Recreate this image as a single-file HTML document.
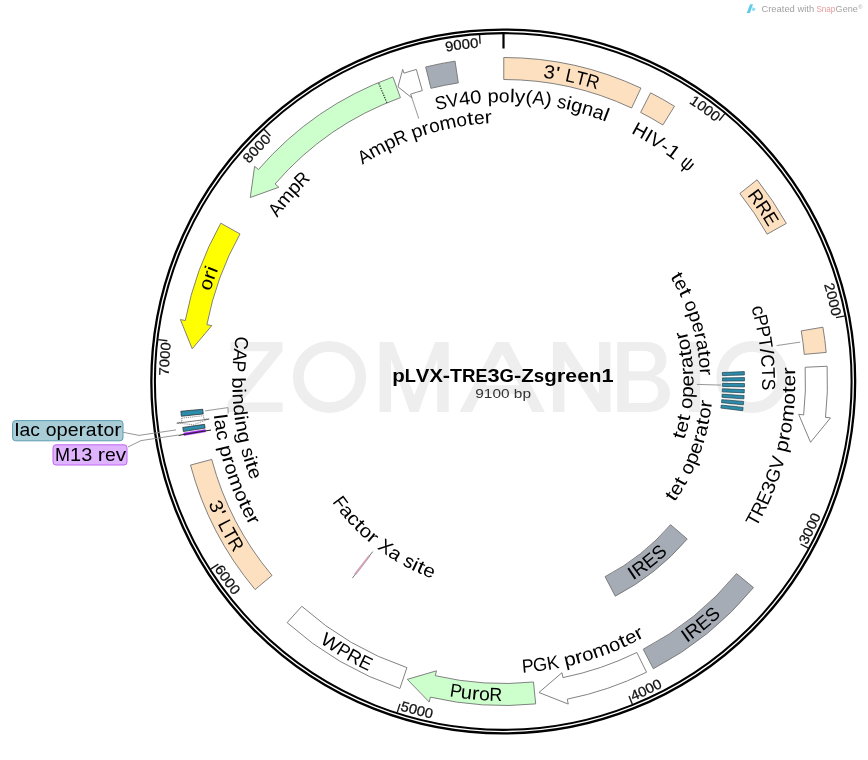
<!DOCTYPE html>
<html><head><meta charset="utf-8"><title>pLVX-TRE3G-Zsgreen1</title>
<style>html,body{margin:0;padding:0;background:#fff}svg{display:block;will-change:transform;opacity:0.999}</style></head>
<body>
<svg width="868" height="760" viewBox="0 0 868 760" font-family='"Liberation Sans", sans-serif'>
<rect width="868" height="760" fill="#fff"/>
<path fill="#eeeeee" d="M230.4 342.1H282.5V351.3L241.3 402.6H282.5V411.9H227.5V402.6L269.3 351.3H230.4Z"/>
<g fill="#eeeeee" fill-rule="evenodd" stroke="none" transform="translate(0 342) scale(1 0.9655) translate(0 -340.6)">
<path d="M379.6 413.1V340.6H393.2L414.2 396L435.2 340.6H448.7V413.1H437.2V358.5L418.6 413.1H409.8L391.1 358.5V413.1Z"/>
<path d="M459.6 413.1L496.2 340.6H508.8L544.8 413.1H532.3L523.6 394.6H481L472 413.1ZM502.4 353.2L485.6 385.4H519.2Z"/>
<path d="M552.9 413.1V340.6H565.6L599 394.2V340.6H610.5V413.1H597.9L564.4 359.6V413.1Z"/>
<path d="M617.3 340.6H646C660 340.6 666.5 349 666.5 359C666.5 368 661.5 373.6 655 375.6C663.5 377.6 670 384 670 393.6C670 405 661 413.1 646.5 413.1H617.3ZM628.8 350V371H645C652 371 655.2 366 655.2 360.5C655.2 354 651 350 645 350ZM628.8 380.4V403.7H646C654 403.7 658.3 398.5 658.3 392C658.3 385 653.5 380.4 646 380.4Z"/>
<rect x="688.7" y="340.6" width="11.5" height="72.5"/>
</g>
<ellipse cx="329.5" cy="377" rx="31.2" ry="30.6" fill="none" stroke="#eeeeee" stroke-width="10.8"/>
<ellipse cx="752.2" cy="377" rx="30.4" ry="30.6" fill="none" stroke="#eeeeee" stroke-width="10.8"/>
<circle cx="503.25" cy="381.5" r="351.9" fill="none" stroke="#000" stroke-width="2.3"/>
<circle cx="503.25" cy="381.5" r="348.35" fill="none" stroke="#000" stroke-width="2.05"/>
<line x1="503.5" y1="33.6" x2="503.5" y2="48.5" stroke="#000" stroke-width="2.2"/>
<line x1="725.01" y1="113.36" x2="719.15" y2="120.46" stroke="#1a1a1a" stroke-width="1.4"/>
<g font-size="14" fill="#111" stroke="#111" stroke-width="0.25"><text transform="translate(692.22 104.96) rotate(34.31) scale(1.06 1)" text-anchor="middle">1</text><text transform="translate(698.98 109.69) rotate(35.72) scale(1.06 1)" text-anchor="middle">0</text><text transform="translate(705.62 114.59) rotate(37.13) scale(1.06 1)" text-anchor="middle">0</text><text transform="translate(712.13 119.65) rotate(38.55) scale(1.06 1)" text-anchor="middle">0</text></g>
<line x1="845.05" y1="315.86" x2="836.01" y2="317.59" stroke="#1a1a1a" stroke-width="1.4"/>
<g font-size="14" fill="#111" stroke="#111" stroke-width="0.25"><text transform="translate(825.12 288.49) rotate(73.87) scale(1.06 1)" text-anchor="middle">2</text><text transform="translate(827.32 296.45) rotate(75.28) scale(1.06 1)" text-anchor="middle">0</text><text transform="translate(829.31 304.45) rotate(76.7) scale(1.06 1)" text-anchor="middle">0</text><text transform="translate(831.11 312.5) rotate(78.11) scale(1.06 1)" text-anchor="middle">0</text></g>
<line x1="808.63" y1="548.42" x2="800.55" y2="544.01" stroke="#1a1a1a" stroke-width="1.4"/>
<g font-size="14" fill="#111" stroke="#111" stroke-width="0.25"><text transform="translate(808.62 541.66) rotate(297.7) scale(1.06 1)" text-anchor="middle">3</text><text transform="translate(812.36 534.31) rotate(296.32) scale(1.06 1)" text-anchor="middle">0</text><text transform="translate(815.93 526.88) rotate(294.95) scale(1.06 1)" text-anchor="middle">0</text><text transform="translate(819.32 519.36) rotate(293.58) scale(1.06 1)" text-anchor="middle">0</text></g>
<line x1="632.43" y1="704.52" x2="629.02" y2="695.98" stroke="#1a1a1a" stroke-width="1.4"/>
<g font-size="14" fill="#111" stroke="#111" stroke-width="0.25"><text transform="translate(636.72 699.31) rotate(337.26) scale(1.06 1)" text-anchor="middle">4</text><text transform="translate(644.29 696.03) rotate(335.88) scale(1.06 1)" text-anchor="middle">0</text><text transform="translate(651.78 692.57) rotate(334.51) scale(1.06 1)" text-anchor="middle">0</text><text transform="translate(659.19 688.93) rotate(333.14) scale(1.06 1)" text-anchor="middle">0</text></g>
<line x1="397.17" y1="712.65" x2="399.98" y2="703.89" stroke="#1a1a1a" stroke-width="1.4"/>
<g font-size="14" fill="#111" stroke="#111" stroke-width="0.25"><text transform="translate(403.8 711.36) rotate(376.82) scale(1.06 1)" text-anchor="middle">5</text><text transform="translate(411.73 713.65) rotate(375.45) scale(1.06 1)" text-anchor="middle">0</text><text transform="translate(419.7 715.76) rotate(374.07) scale(1.06 1)" text-anchor="middle">0</text><text transform="translate(427.73 717.67) rotate(372.7) scale(1.06 1)" text-anchor="middle">0</text></g>
<line x1="210.62" y1="569.08" x2="218.36" y2="564.11" stroke="#1a1a1a" stroke-width="1.4"/>
<g font-size="14" fill="#111" stroke="#111" stroke-width="0.25"><text transform="translate(216.55 572.31) rotate(416.38) scale(1.06 1)" text-anchor="middle">6</text><text transform="translate(221.2 579.13) rotate(415.01) scale(1.06 1)" text-anchor="middle">0</text><text transform="translate(226.01 585.83) rotate(413.63) scale(1.06 1)" text-anchor="middle">0</text><text transform="translate(230.98 592.41) rotate(412.26) scale(1.06 1)" text-anchor="middle">0</text></g>
<line x1="158.24" y1="339.58" x2="167.37" y2="340.69" stroke="#1a1a1a" stroke-width="1.4"/>
<g font-size="14" fill="#111" stroke="#111" stroke-width="0.25"><text transform="translate(168.84 371.72) rotate(271.67) scale(1.06 1)" text-anchor="middle">7</text><text transform="translate(169.19 363.48) rotate(273.09) scale(1.06 1)" text-anchor="middle">0</text><text transform="translate(169.73 355.25) rotate(274.5) scale(1.06 1)" text-anchor="middle">0</text><text transform="translate(170.48 347.03) rotate(275.91) scale(1.06 1)" text-anchor="middle">0</text></g>
<line x1="264.02" y1="129.28" x2="270.35" y2="135.96" stroke="#1a1a1a" stroke-width="1.4"/>
<g font-size="14" fill="#111" stroke="#111" stroke-width="0.25"><text transform="translate(251.72 160.82) rotate(311.23) scale(1.06 1)" text-anchor="middle">8</text><text transform="translate(257.24 154.68) rotate(312.65) scale(1.06 1)" text-anchor="middle">0</text><text transform="translate(262.9 148.69) rotate(314.06) scale(1.06 1)" text-anchor="middle">0</text><text transform="translate(268.71 142.83) rotate(315.47) scale(1.06 1)" text-anchor="middle">0</text></g>
<line x1="479.5" y1="34.53" x2="480.14" y2="43.71" stroke="#1a1a1a" stroke-width="1.4"/>
<g font-size="14" fill="#111" stroke="#111" stroke-width="0.25"><text transform="translate(449.94 51.01) rotate(350.79) scale(1.06 1)" text-anchor="middle">9</text><text transform="translate(458.1 49.79) rotate(352.21) scale(1.06 1)" text-anchor="middle">0</text><text transform="translate(466.29 48.77) rotate(353.62) scale(1.06 1)" text-anchor="middle">0</text><text transform="translate(474.49 47.96) rotate(355.03) scale(1.06 1)" text-anchor="middle">0</text></g>
<path d="M503.78 57.5A324 324 0 0 1 640.94 88.1L631.61 108.02A302 302 0 0 0 503.76 79.5Z" fill="#fde0bf" stroke="#747474" stroke-width="0.9"/>
<path d="M650.59 92.81A324 324 0 0 1 674.47 106.28L662.86 124.97A302 302 0 0 0 640.61 112.42Z" fill="#fde0bf" stroke="#747474" stroke-width="0.9"/>
<path d="M757.07 179.81A324 324 0 0 1 786.33 223.43L767.12 234.17A302 302 0 0 0 739.85 193.5Z" fill="#fde0bf" stroke="#747474" stroke-width="0.9"/>
<path d="M822.92 327.19A324 324 0 0 1 826.19 352.42L804.28 354.39A302 302 0 0 0 801.23 330.88Z" fill="#fde0bf" stroke="#747474" stroke-width="0.9"/>
<path d="M827.14 366.24A324 324 0 0 1 825.51 417.33L830.48 417.88L810.54 442.3L798.68 414.34L803.65 414.9A302 302 0 0 0 805.16 367.27Z" fill="#fff" stroke="#747474" stroke-width="0.9" stroke-linejoin="miter"/>
<path d="M744.3 371.62A241 241 0 0 1 744.41 374.98L722.42 375.58A219 219 0 0 0 722.32 372.52Z" fill="#2e8cab" stroke="#1d3f4a" stroke-width="0.7"/>
<path d="M744.47 377.59A241 241 0 0 1 744.5 380.95L722.5 381A219 219 0 0 0 722.47 377.95Z" fill="#2e8cab" stroke="#1d3f4a" stroke-width="0.7"/>
<path d="M744.49 383.56A241 241 0 0 1 744.44 386.93L722.44 386.43A219 219 0 0 0 722.49 383.37Z" fill="#2e8cab" stroke="#1d3f4a" stroke-width="0.7"/>
<path d="M744.37 389.53A241 241 0 0 1 744.23 392.89L722.26 391.85A219 219 0 0 0 722.38 388.8Z" fill="#2e8cab" stroke="#1d3f4a" stroke-width="0.7"/>
<path d="M744.09 395.5A241 241 0 0 1 743.87 398.86L721.93 397.27A219 219 0 0 0 722.13 394.22Z" fill="#2e8cab" stroke="#1d3f4a" stroke-width="0.7"/>
<path d="M743.67 401.46A241 241 0 0 1 743.37 404.81L721.47 402.68A219 219 0 0 0 721.75 399.63Z" fill="#2e8cab" stroke="#1d3f4a" stroke-width="0.7"/>
<path d="M743.1 407.4A241 241 0 0 1 742.72 410.75L720.88 408.08A219 219 0 0 0 721.23 405.04Z" fill="#2e8cab" stroke="#1d3f4a" stroke-width="0.7"/>
<path d="M753.51 587.59A324 324 0 0 1 653.36 668.76L643.18 649.26A302 302 0 0 0 736.53 573.6Z" fill="#a6acb6" stroke="#747474" stroke-width="0.9"/>
<path d="M687.24 538.99A242 242 0 0 1 615.24 596.16L605.08 576.64A220 220 0 0 0 670.54 524.67Z" fill="#a6acb6" stroke="#747474" stroke-width="0.9"/>
<path d="M646.55 672.21A324 324 0 0 1 567.27 699.16L568.25 704.06L538.93 692.49L561.95 672.69L562.94 677.59A302 302 0 0 0 636.83 652.47Z" fill="#fff" stroke="#747474" stroke-width="0.9" stroke-linejoin="miter"/>
<path d="M535.68 703.9A324 324 0 0 1 430.35 697.13L429.22 702L407.3 679.35L436.44 670.83L435.31 675.7A302 302 0 0 0 533.49 682.01Z" fill="#ccffcc" stroke="#747474" stroke-width="0.9" stroke-linejoin="miter"/>
<path d="M399.89 688.49A324 324 0 0 1 287.12 622.66L301.81 606.28A302 302 0 0 0 406.92 667.64Z" fill="#fff" stroke="#747474" stroke-width="0.9"/>
<path d="M255.12 589.55A324 324 0 0 1 190.47 465.08L211.72 459.41A302 302 0 0 0 271.99 575.42Z" fill="#fde0bf" stroke="#747474" stroke-width="0.9"/>
<path d="M220.81 223.19A324 324 0 0 0 185.29 320.51L180.38 319.56L192.21 348.78L211.81 325.59L206.9 324.65A302 302 0 0 1 240.01 233.94Z" fill="#ffff00" stroke="#747474" stroke-width="0.9" stroke-linejoin="miter"/>
<path d="M392.9 76.96A324 324 0 0 0 258.42 169.57L254.64 166.3L250.28 197.52L278.85 187.23L275.06 183.96A302 302 0 0 1 400.41 97.64Z" fill="#ccffcc" stroke="#747474" stroke-width="0.9" stroke-linejoin="miter"/>
<line x1="386.96" y1="102.89" x2="378.47" y2="82.6" stroke="#222" stroke-width="1.1" stroke-dasharray="1.3 1.2"/>
<path d="M416.37 69.44A324 324 0 0 0 403.92 73.18L402.69 69.38L397.99 86.82L411.91 97.92L410.68 94.12A302 302 0 0 1 422.29 90.62Z" fill="#fff" stroke="#747474" stroke-width="0.9" stroke-linejoin="miter"/>
<path d="M425.67 66.99A324 324 0 0 1 455.05 61.14L458.34 82.9A302 302 0 0 0 430.95 88.34Z" fill="#a6acb6" stroke="#747474" stroke-width="0.9"/>
<line x1="372.77" y1="551.56" x2="352.36" y2="578.12" stroke="#6a6a6a" stroke-width="0.9"/>
<path d="M355.98 574.59A243 243 0 0 1 354.7 573.61L368.78 555.43A220 220 0 0 0 369.94 556.32Z" fill="#e3a5c2" stroke="#9a7a88" stroke-width="0.4"/>
<path d="M181.37 416.27A324 324 0 0 1 180.87 411.26L202.78 409.24A302 302 0 0 0 203.24 413.91Z" fill="#2e8cab" stroke="#222" stroke-width="0.7"/>
<path d="M181.58 418.18L182.02 421.83L177.13 423.02L193.51 424.79L208.87 418.98L203.85 419.09L203.44 415.69Z" fill="#fff" stroke="#555" stroke-width="0.7" stroke-dasharray="1 0.9"/>
<line x1="176.66" y1="423.25" x2="209.39" y2="419.07" stroke="#555" stroke-width="0.8"/>
<path d="M183.38 431.51A324 324 0 0 1 182.77 427.43L204.55 424.31A302 302 0 0 0 205.12 428.12Z" fill="#2e8cab" stroke="#222" stroke-width="0.7"/>
<path d="M184.04 435.53A324 324 0 0 1 183.62 433.02L205.34 429.52A302 302 0 0 0 205.73 431.86Z" fill="#a020f0" stroke="#a020f0" stroke-width="0.4"/>
<line x1="178.44" y1="435.43" x2="211" y2="430.03" stroke="#222" stroke-width="1"/>
<polyline points="411.1,95.6 418.8,118.6" fill="none" stroke="#8a8a8a" stroke-width="0.9"/>
<polyline points="776.6,345.6 800.3,342.1" fill="none" stroke="#8a8a8a" stroke-width="0.9"/>
<polyline points="696.9,384.4 721.1,385.1" fill="none" stroke="#8a8a8a" stroke-width="0.9"/>
<polyline points="205.1,410.9 228,407.6 228.2,413.6" fill="none" stroke="#8a8a8a" stroke-width="0.9"/>
<polyline points="123.2,432.3 139,435.4 176,429.9" fill="none" stroke="#8a8a8a" stroke-width="0.9"/>
<polyline points="128,447 141,440.6 178.3,435" fill="none" stroke="#8a8a8a" stroke-width="0.9"/>
<rect x="12.6" y="420.6" width="110.4" height="20.2" rx="3" fill="#a9cdd6" stroke="#5b9db1" stroke-width="1"/>
<g font-size="18.8" fill="#000"><text transform="translate(17.05 436.4) scale(1.17 1)" text-anchor="middle">l</text><text transform="translate(24.92 436.4) scale(1.03 1)" text-anchor="middle">a</text><text transform="translate(35.18 436.4) scale(1.03 1)" text-anchor="middle">c</text><text transform="translate(51.05 436.4) scale(1.03 1)" text-anchor="middle">o</text><text transform="translate(62.06 436.4) scale(1.07 1)" text-anchor="middle">p</text><text transform="translate(73.1 436.4) scale(1.04 1)" text-anchor="middle">e</text><text transform="translate(82.16 436.4) scale(1.16 1)" text-anchor="middle">r</text><text transform="translate(91.2 436.4) scale(1.03 1)" text-anchor="middle">a</text><text transform="translate(100.07 436.4) scale(1.28 1)" text-anchor="middle">t</text><text transform="translate(108.94 436.4) scale(1.03 1)" text-anchor="middle">o</text><text transform="translate(117.97 436.4) scale(1.16 1)" text-anchor="middle">r</text></g>
<rect x="53" y="444.8" width="74" height="20.2" rx="3" fill="#e0b3ff" stroke="#c166f2" stroke-width="1"/>
<g font-size="18.8" fill="#000"><text transform="translate(62.52 460.8) scale(0.96 1)" text-anchor="middle">M</text><text transform="translate(75.59 460.8) scale(1.06 1)" text-anchor="middle">1</text><text transform="translate(86.69 460.8) scale(1.06 1)" text-anchor="middle">3</text><text transform="translate(101.37 460.8) scale(1.15 1)" text-anchor="middle">r</text><text transform="translate(110.32 460.8) scale(1.03 1)" text-anchor="middle">e</text><text transform="translate(120.84 460.8) scale(1.1 1)" text-anchor="middle">v</text></g>
<g font-size="18.8" fill="#000"><text transform="translate(548.51 78.22) rotate(8.44) scale(1.09 1)" text-anchor="middle">3</text><text transform="translate(556.58 79.53) rotate(9.97) scale(1.28 1)" text-anchor="middle">'</text><text transform="translate(569.5 82.09) rotate(12.43) scale(0.96 1)" text-anchor="middle">L</text><text transform="translate(579.7 84.52) rotate(14.39) scale(0.95 1)" text-anchor="middle">T</text><text transform="translate(590.99 87.65) rotate(16.58) scale(0.94 1)" text-anchor="middle">R</text></g>
<g font-size="18.8" fill="#000"><text transform="translate(442.34 108.98) rotate(-12.65) scale(0.94 1)" text-anchor="middle">S</text><text transform="translate(453.76 106.67) rotate(-10.26) scale(0.96 1)" text-anchor="middle">V</text><text transform="translate(465.28 104.83) rotate(-7.87) scale(1.08 1)" text-anchor="middle">4</text><text transform="translate(476.44 103.51) rotate(-5.56) scale(1.08 1)" text-anchor="middle">0</text><text transform="translate(493.25 102.39) rotate(-2.1) scale(1.07 1)" text-anchor="middle">p</text><text transform="translate(504.26 102.2) rotate(0.16) scale(1.03 1)" text-anchor="middle">o</text><text transform="translate(512.12 102.33) rotate(1.77) scale(1.18 1)" text-anchor="middle">l</text><text transform="translate(519.79 102.68) rotate(3.34) scale(1.11 1)" text-anchor="middle">y</text><text transform="translate(528.44 103.32) rotate(5.12) scale(1.1 1)" text-anchor="middle">(</text><text transform="translate(537.88 104.32) rotate(7.07) scale(0.96 1)" text-anchor="middle">A</text><text transform="translate(547.28 105.65) rotate(9.02) scale(1.1 1)" text-anchor="middle">)</text><text transform="translate(560.72 108.12) rotate(11.82) scale(0.98 1)" text-anchor="middle">s</text><text transform="translate(567.61 109.66) rotate(13.27) scale(1.18 1)" text-anchor="middle">i</text><text transform="translate(575.43 111.62) rotate(14.92) scale(1.07 1)" text-anchor="middle">g</text><text transform="translate(586.2 114.72) rotate(17.22) scale(1.07 1)" text-anchor="middle">n</text><text transform="translate(596.65 118.19) rotate(19.48) scale(1.04 1)" text-anchor="middle">a</text><text transform="translate(604.03 120.92) rotate(21.1) scale(1.18 1)" text-anchor="middle">l</text></g>
<g font-size="18.8" fill="#000"><text transform="translate(637.03 136.19) rotate(28.56) scale(1.05 1)" text-anchor="middle">H</text><text transform="translate(645.65 141.08) rotate(30.6) scale(1.07 1)" text-anchor="middle">I</text><text transform="translate(653.56 145.93) rotate(32.5) scale(1.03 1)" text-anchor="middle">V</text><text transform="translate(661.81 151.4) rotate(34.53) scale(1.09 1)" text-anchor="middle">-</text><text transform="translate(669.5 156.88) rotate(36.47) scale(1.15 1)" text-anchor="middle">1</text><text transform="translate(683.84 168.23) rotate(40.22) scale(0.94 1)" text-anchor="middle">ψ</text></g>
<g font-size="18.8" fill="#000"><text transform="translate(751 200.54) rotate(53.83) scale(0.98 1)" text-anchor="middle">R</text><text transform="translate(758.61 211.44) rotate(56.31) scale(0.98 1)" text-anchor="middle">R</text><text transform="translate(765.44 222.15) rotate(58.69) scale(0.96 1)" text-anchor="middle">E</text></g>
<g font-size="18.8" fill="#000"><text transform="translate(752.57 311.96) rotate(74.4) scale(1.06 1)" text-anchor="middle">c</text><text transform="translate(755.17 322.04) rotate(76.71) scale(0.94 1)" text-anchor="middle">P</text><text transform="translate(757.45 332.69) rotate(79.12) scale(0.94 1)" text-anchor="middle">P</text><text transform="translate(759.29 343.5) rotate(81.55) scale(0.96 1)" text-anchor="middle">T</text><text transform="translate(760.41 351.98) rotate(83.45) scale(1.17 1)" text-anchor="middle">/</text><text transform="translate(761.31 361.29) rotate(85.52) scale(0.94 1)" text-anchor="middle">C</text><text transform="translate(761.96 373.09) rotate(88.14) scale(0.96 1)" text-anchor="middle">T</text><text transform="translate(762.08 384.34) rotate(90.63) scale(0.94 1)" text-anchor="middle">S</text></g>
<g font-size="18.8" fill="#000"><text transform="translate(758.99 522.47) rotate(298.89) scale(0.99 1)" text-anchor="middle">T</text><text transform="translate(764.61 511.76) rotate(296.51) scale(0.95 1)" text-anchor="middle">R</text><text transform="translate(769.87 500.64) rotate(294.1) scale(0.94 1)" text-anchor="middle">E</text><text transform="translate(774.45 489.82) rotate(291.79) scale(1.13 1)" text-anchor="middle">3</text><text transform="translate(779.03 477.58) rotate(289.22) scale(0.98 1)" text-anchor="middle">G</text><text transform="translate(783.18 464.71) rotate(286.57) scale(1.01 1)" text-anchor="middle">V</text><text transform="translate(787.81 447.2) rotate(283.01) scale(1.13 1)" text-anchor="middle">p</text><text transform="translate(789.83 437.72) rotate(281.11) scale(1.22 1)" text-anchor="middle">r</text><text transform="translate(791.51 428.39) rotate(279.25) scale(1.08 1)" text-anchor="middle">o</text><text transform="translate(793.5 413.83) rotate(276.36) scale(1.15 1)" text-anchor="middle">m</text><text transform="translate(794.76 399.19) rotate(273.48) scale(1.08 1)" text-anchor="middle">o</text><text transform="translate(795.18 389.9) rotate(271.65) scale(1.28 1)" text-anchor="middle">t</text><text transform="translate(795.3 380.56) rotate(269.82) scale(1.09 1)" text-anchor="middle">e</text><text transform="translate(795.11 371.05) rotate(267.95) scale(1.22 1)" text-anchor="middle">r</text></g>
<g font-size="18.8" fill="#000"><text transform="translate(671.65 279.64) rotate(58.79) scale(1.28 1)" text-anchor="middle">t</text><text transform="translate(676.02 287.23) rotate(61.35) scale(1.02 1)" text-anchor="middle">e</text><text transform="translate(680.05 295) rotate(63.9) scale(1.28 1)" text-anchor="middle">t</text><text transform="translate(685.85 308.02) rotate(68.05) scale(1.02 1)" text-anchor="middle">o</text><text transform="translate(689.63 318.18) rotate(71.21) scale(1.06 1)" text-anchor="middle">p</text><text transform="translate(692.84 328.56) rotate(74.38) scale(1.02 1)" text-anchor="middle">e</text><text transform="translate(695.05 337.21) rotate(76.98) scale(1.14 1)" text-anchor="middle">r</text><text transform="translate(696.86 345.93) rotate(79.58) scale(1.02 1)" text-anchor="middle">a</text><text transform="translate(698.24 354.55) rotate(82.12) scale(1.28 1)" text-anchor="middle">t</text><text transform="translate(699.25 363.22) rotate(84.67) scale(1.02 1)" text-anchor="middle">o</text><text transform="translate(699.87 372.1) rotate(87.26) scale(1.14 1)" text-anchor="middle">r</text></g>
<g font-size="18.8" fill="#000"><text transform="translate(685.1 437.03) rotate(287) scale(1.28 1)" text-anchor="middle">t</text><text transform="translate(687.61 428.03) rotate(284.18) scale(1.09 1)" text-anchor="middle">e</text><text transform="translate(689.68 418.91) rotate(281.36) scale(1.28 1)" text-anchor="middle">t</text><text transform="translate(692.08 403.89) rotate(276.77) scale(1.09 1)" text-anchor="middle">o</text><text transform="translate(693.09 392.37) rotate(273.28) scale(1.13 1)" text-anchor="middle">p</text><text transform="translate(693.4 380.77) rotate(269.78) scale(1.09 1)" text-anchor="middle">e</text><text transform="translate(693.12 371.25) rotate(266.91) scale(1.22 1)" text-anchor="middle">r</text><text transform="translate(692.37 361.78) rotate(264.04) scale(1.09 1)" text-anchor="middle">a</text><text transform="translate(691.18 352.53) rotate(261.23) scale(1.28 1)" text-anchor="middle">t</text><text transform="translate(689.53 343.36) rotate(258.42) scale(1.09 1)" text-anchor="middle">o</text><text transform="translate(687.39 334.12) rotate(255.55) scale(1.22 1)" text-anchor="middle">r</text></g>
<g font-size="18.8" fill="#000"><text transform="translate(676.24 499.86) rotate(304.42) scale(1.28 1)" text-anchor="middle">t</text><text transform="translate(681.27 492.16) rotate(301.9) scale(1.08 1)" text-anchor="middle">e</text><text transform="translate(685.97 484.24) rotate(299.38) scale(1.28 1)" text-anchor="middle">t</text><text transform="translate(692.84 470.93) rotate(295.28) scale(1.07 1)" text-anchor="middle">o</text><text transform="translate(697.43 460.5) rotate(292.16) scale(1.11 1)" text-anchor="middle">p</text><text transform="translate(701.45 449.8) rotate(289.04) scale(1.08 1)" text-anchor="middle">e</text><text transform="translate(704.31 440.87) rotate(286.47) scale(1.2 1)" text-anchor="middle">r</text><text transform="translate(706.76 431.84) rotate(283.91) scale(1.07 1)" text-anchor="middle">a</text><text transform="translate(708.77 422.88) rotate(281.4) scale(1.28 1)" text-anchor="middle">t</text><text transform="translate(710.39 413.85) rotate(278.89) scale(1.07 1)" text-anchor="middle">o</text><text transform="translate(711.62 404.58) rotate(276.33) scale(1.2 1)" text-anchor="middle">r</text></g>
<g font-size="18.8" fill="#000"><text transform="translate(689.11 641.43) rotate(324.47) scale(1.11 1)" text-anchor="middle">I</text><text transform="translate(696.97 635.64) rotate(322.72) scale(1.01 1)" text-anchor="middle">R</text><text transform="translate(707.21 627.5) rotate(320.37) scale(0.99 1)" text-anchor="middle">E</text><text transform="translate(716.67 619.35) rotate(318.13) scale(1 1)" text-anchor="middle">S</text></g>
<g font-size="18.8" fill="#000"><text transform="translate(635.5 578.82) rotate(326.22) scale(1.11 1)" text-anchor="middle">I</text><text transform="translate(643.5 573.23) rotate(323.86) scale(1.01 1)" text-anchor="middle">R</text><text transform="translate(653.85 565.22) rotate(320.71) scale(0.99 1)" text-anchor="middle">E</text><text transform="translate(663.3 557.06) rotate(317.69) scale(1 1)" text-anchor="middle">S</text></g>
<g font-size="18.8" fill="#000"><text transform="translate(528.34 672.24) rotate(355.12) scale(0.94 1)" text-anchor="middle">P</text><text transform="translate(540.87 670.9) rotate(352.64) scale(0.97 1)" text-anchor="middle">G</text><text transform="translate(553.81 668.93) rotate(350.07) scale(0.96 1)" text-anchor="middle">K</text><text transform="translate(571.07 665.37) rotate(346.61) scale(1.11 1)" text-anchor="middle">p</text><text transform="translate(580.34 663) rotate(344.73) scale(1.2 1)" text-anchor="middle">r</text><text transform="translate(589.33 660.39) rotate(342.89) scale(1.07 1)" text-anchor="middle">o</text><text transform="translate(603.09 655.78) rotate(340.04) scale(1.14 1)" text-anchor="middle">m</text><text transform="translate(616.6 650.49) rotate(337.2) scale(1.07 1)" text-anchor="middle">o</text><text transform="translate(625.01 646.8) rotate(335.39) scale(1.28 1)" text-anchor="middle">t</text><text transform="translate(633.32 642.83) rotate(333.58) scale(1.08 1)" text-anchor="middle">e</text><text transform="translate(641.67 638.52) rotate(331.74) scale(1.2 1)" text-anchor="middle">r</text></g>
<g font-size="18.8" fill="#000"><text transform="translate(455.12 697.21) rotate(368.71) scale(0.94 1)" text-anchor="middle">P</text><text transform="translate(465.9 698.68) rotate(366.76) scale(1.07 1)" text-anchor="middle">u</text><text transform="translate(475.05 699.63) rotate(365.11) scale(1.16 1)" text-anchor="middle">r</text><text transform="translate(484.03 700.31) rotate(363.5) scale(1.03 1)" text-anchor="middle">o</text><text transform="translate(495.51 700.8) rotate(361.43) scale(0.94 1)" text-anchor="middle">R</text></g>
<g font-size="18.8" fill="#000"><text transform="translate(327.3 647.9) rotate(393.48) scale(1.09 1)" text-anchor="middle">W</text><text transform="translate(340.47 656.16) rotate(390.69) scale(0.94 1)" text-anchor="middle">P</text><text transform="translate(351.5 662.41) rotate(388.42) scale(1 1)" text-anchor="middle">R</text><text transform="translate(363.01 668.34) rotate(386.09) scale(0.98 1)" text-anchor="middle">E</text></g>
<g font-size="18.8" fill="#000"><text transform="translate(335.31 506.25) rotate(413.44) scale(0.94 1)" text-anchor="middle">F</text><text transform="translate(342.13 514.95) rotate(410.41) scale(1.09 1)" text-anchor="middle">a</text><text transform="translate(349.24 523.1) rotate(407.45) scale(1.09 1)" text-anchor="middle">c</text><text transform="translate(355.3 529.43) rotate(405.05) scale(1.28 1)" text-anchor="middle">t</text><text transform="translate(362.04 535.9) rotate(402.5) scale(1.09 1)" text-anchor="middle">o</text><text transform="translate(369.21 542.16) rotate(399.89) scale(1.22 1)" text-anchor="middle">r</text><text transform="translate(381.96 552.02) rotate(395.48) scale(1.02 1)" text-anchor="middle">X</text><text transform="translate(391.99 558.74) rotate(392.18) scale(1.09 1)" text-anchor="middle">a</text><text transform="translate(406.26 566.95) rotate(387.67) scale(1.03 1)" text-anchor="middle">s</text><text transform="translate(412.9 570.29) rotate(385.64) scale(1.24 1)" text-anchor="middle">i</text><text transform="translate(418.56 572.9) rotate(383.93) scale(1.28 1)" text-anchor="middle">t</text><text transform="translate(427.21 576.51) rotate(381.37) scale(1.1 1)" text-anchor="middle">e</text></g>
<g font-size="18.8" fill="#000"><text transform="translate(210.58 508.84) rotate(426.5) scale(1.09 1)" text-anchor="middle">3</text><text transform="translate(213.94 516.3) rotate(425.04) scale(1.28 1)" text-anchor="middle">'</text><text transform="translate(219.74 528.12) rotate(422.67) scale(0.96 1)" text-anchor="middle">L</text><text transform="translate(224.71 537.36) rotate(420.79) scale(0.95 1)" text-anchor="middle">T</text><text transform="translate(230.61 547.48) rotate(418.69) scale(0.94 1)" text-anchor="middle">R</text></g>
<g font-size="18.8" fill="#000"><text transform="translate(213.94 417.57) rotate(442.9) scale(1.22 1)" text-anchor="middle">l</text><text transform="translate(215.06 425.65) rotate(441.3) scale(1.07 1)" text-anchor="middle">a</text><text transform="translate(216.86 436.15) rotate(439.21) scale(1.07 1)" text-anchor="middle">c</text><text transform="translate(220.45 452.43) rotate(435.93) scale(1.11 1)" text-anchor="middle">p</text><text transform="translate(222.93 461.68) rotate(434.05) scale(1.2 1)" text-anchor="middle">r</text><text transform="translate(225.65 470.65) rotate(432.21) scale(1.07 1)" text-anchor="middle">o</text><text transform="translate(230.43 484.37) rotate(429.36) scale(1.14 1)" text-anchor="middle">m</text><text transform="translate(235.89 497.84) rotate(426.5) scale(1.07 1)" text-anchor="middle">o</text><text transform="translate(239.69 506.21) rotate(424.7) scale(1.28 1)" text-anchor="middle">t</text><text transform="translate(243.77 514.49) rotate(422.89) scale(1.08 1)" text-anchor="middle">e</text><text transform="translate(248.19 522.79) rotate(421.04) scale(1.2 1)" text-anchor="middle">r</text></g>
<g font-size="18.8" fill="#000"><text transform="translate(235.19 342.03) rotate(458.37) scale(0.94 1)" text-anchor="middle">C</text><text transform="translate(233.66 354.41) rotate(455.73) scale(0.98 1)" text-anchor="middle">A</text><text transform="translate(232.74 365.99) rotate(453.28) scale(0.94 1)" text-anchor="middle">P</text><text transform="translate(232.3 382.89) rotate(449.71) scale(1.1 1)" text-anchor="middle">b</text><text transform="translate(232.47 391.13) rotate(447.97) scale(1.2 1)" text-anchor="middle">i</text><text transform="translate(232.89 399.34) rotate(446.23) scale(1.09 1)" text-anchor="middle">n</text><text transform="translate(233.88 410.75) rotate(443.81) scale(1.1 1)" text-anchor="middle">d</text><text transform="translate(234.89 418.92) rotate(442.07) scale(1.2 1)" text-anchor="middle">i</text><text transform="translate(236.15 427.06) rotate(440.33) scale(1.09 1)" text-anchor="middle">n</text><text transform="translate(238.31 438.3) rotate(437.91) scale(1.1 1)" text-anchor="middle">g</text><text transform="translate(242.17 454) rotate(434.49) scale(1 1)" text-anchor="middle">s</text><text transform="translate(244.19 460.92) rotate(432.97) scale(1.2 1)" text-anchor="middle">i</text><text transform="translate(246.02 466.68) rotate(431.69) scale(1.28 1)" text-anchor="middle">t</text><text transform="translate(249.02 475.26) rotate(429.77) scale(1.06 1)" text-anchor="middle">e</text></g>
<g font-size="18.8" fill="#000"><text transform="translate(212.09 286.18) rotate(288.11) scale(1.08 1)" text-anchor="middle">o</text><text transform="translate(215.16 277.26) rotate(289.88) scale(1.21 1)" text-anchor="middle">r</text><text transform="translate(217.39 271.31) rotate(291.06) scale(1.23 1)" text-anchor="middle">i</text></g>
<g font-size="18.8" fill="#000"><text transform="translate(280.71 213.06) rotate(307.09) scale(0.94 1)" text-anchor="middle">A</text><text transform="translate(289.47 202.06) rotate(309.98) scale(1.06 1)" text-anchor="middle">m</text><text transform="translate(298.49 191.82) rotate(312.78) scale(1.03 1)" text-anchor="middle">p</text><text transform="translate(306.32 183.69) rotate(315.09) scale(0.94 1)" text-anchor="middle">R</text></g>
<g font-size="18.8" fill="#000"><text transform="translate(367.5 161.55) rotate(328.27) scale(0.94 1)" text-anchor="middle">A</text><text transform="translate(379.9 154.35) rotate(331.45) scale(1.08 1)" text-anchor="middle">m</text><text transform="translate(392.3 148.03) rotate(334.53) scale(1.05 1)" text-anchor="middle">p</text><text transform="translate(402.79 143.32) rotate(337.08) scale(0.94 1)" text-anchor="middle">R</text><text transform="translate(418.66 137.21) rotate(340.85) scale(1.05 1)" text-anchor="middle">p</text><text transform="translate(427.25 134.4) rotate(342.85) scale(1.14 1)" text-anchor="middle">r</text><text transform="translate(435.75 131.93) rotate(344.81) scale(1.01 1)" text-anchor="middle">o</text><text transform="translate(449.08 128.69) rotate(347.85) scale(1.08 1)" text-anchor="middle">m</text><text transform="translate(462.56 126.16) rotate(350.89) scale(1.01 1)" text-anchor="middle">o</text><text transform="translate(471.15 124.93) rotate(352.81) scale(1.28 1)" text-anchor="middle">t</text><text transform="translate(479.82 123.99) rotate(354.75) scale(1.02 1)" text-anchor="middle">e</text><text transform="translate(488.67 123.33) rotate(356.71) scale(1.14 1)" text-anchor="middle">r</text></g>
<g font-size="18.3" fill="#000" font-weight="bold"><text transform="translate(398.45 382.3) scale(1.12 1)" text-anchor="middle">p</text><text transform="translate(410.27 382.3) scale(1 1)" text-anchor="middle">L</text><text transform="translate(422.6 382.3) scale(1.11 1)" text-anchor="middle">V</text><text transform="translate(436.09 382.3) scale(1.1 1)" text-anchor="middle">X</text><text transform="translate(446.45 382.3) scale(1.19 1)" text-anchor="middle">-</text><text transform="translate(456.04 382.3) scale(1.07 1)" text-anchor="middle">T</text><text transform="translate(468.72 382.3) scale(1.02 1)" text-anchor="middle">R</text><text transform="translate(481.41 382.3) scale(0.98 1)" text-anchor="middle">E</text><text transform="translate(493.46 382.3) scale(1.19 1)" text-anchor="middle">3</text><text transform="translate(506.7 382.3) scale(1.01 1)" text-anchor="middle">G</text><text transform="translate(517.5 382.3) scale(1.19 1)" text-anchor="middle">-</text><text transform="translate(527.46 382.3) scale(1.13 1)" text-anchor="middle">Z</text><text transform="translate(538.99 382.3) scale(1.02 1)" text-anchor="middle">s</text><text transform="translate(550.44 382.3) scale(1.12 1)" text-anchor="middle">g</text><text transform="translate(561 382.3) scale(1.21 1)" text-anchor="middle">r</text><text transform="translate(571.24 382.3) scale(1.16 1)" text-anchor="middle">e</text><text transform="translate(583.08 382.3) scale(1.16 1)" text-anchor="middle">e</text><text transform="translate(595.23 382.3) scale(1.11 1)" text-anchor="middle">n</text><text transform="translate(607.52 382.3) scale(1.19 1)" text-anchor="middle">1</text></g>
<g font-size="13.2" fill="#333"><text transform="translate(479.5 397.6) scale(1.17 1)" text-anchor="middle">9</text><text transform="translate(488.09 397.6) scale(1.17 1)" text-anchor="middle">1</text><text transform="translate(496.68 397.6) scale(1.17 1)" text-anchor="middle">0</text><text transform="translate(505.27 397.6) scale(1.17 1)" text-anchor="middle">0</text><text transform="translate(518.14 397.6) scale(1.17 1)" text-anchor="middle">b</text><text transform="translate(526.71 397.6) scale(1.17 1)" text-anchor="middle">p</text></g>
<path d="M746.7 13L750.1 4.2L753 4.2L750 13Z" fill="#62cbe9"/>
<path d="M752.5 6.9L755.9 9L753.6 11.3L752 10.3Z" fill="#8adcf2"/>
<g font-size="9" fill="#a2a2a2">
<text x="761.4" y="11.8" textLength="52.8" lengthAdjust="spacingAndGlyphs">Created with</text>
<text x="816.4" y="11.8" fill="#e79a9a" textLength="18.9" lengthAdjust="spacingAndGlyphs">Snap</text>
<text x="835.6" y="11.8" textLength="22.2" lengthAdjust="spacingAndGlyphs">Gene</text>
<text x="858.4" y="8.6" font-size="5.2">®</text>
</g>
</svg>
</body></html>
